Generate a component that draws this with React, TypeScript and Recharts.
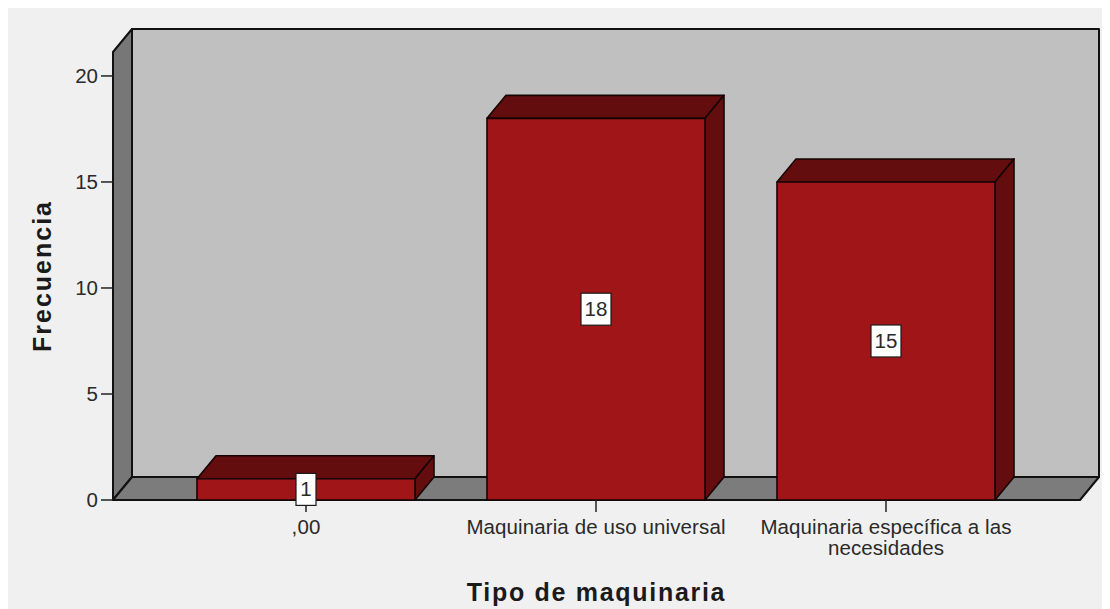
import React from "react";
import { BarChart, Bar, XAxis, YAxis, ReferenceArea, LabelList, Label } from "recharts";

const categories = [",00", "Maquinaria de uso universal", "Maquinaria específica a las necesidades"];
const frequencies = [1, 18, 15];
const yTicks = [0, 5, 10, 15, 20];
const yTop = 21.13;
const rows = categories.map((name, i) => ({ name, value: frequencies[i] }));

const FONT = '"Liberation Sans", Arial, sans-serif';
const DEPTH_X = 19;
const DEPTH_Y = 23;
const PAD_LEFT = 48;
const PAD_RIGHT = 49;
const EDGE = "#111111";
const TEXT = "#2a2a2a";

// Box interior: back wall, left wall and floor, offset by the extrusion depth.
// The area spans the padded category range, so it is widened back to the full plot.
function Room(props: any) {
  const { y, height } = props;
  const x = props.x - PAD_LEFT;
  const width = props.width + PAD_LEFT + PAD_RIGHT;
  const b = y + height;
  const r = x + width;
  return (
    <g stroke={EDGE} strokeLinejoin="round">
      <rect x={x + DEPTH_X} y={y - DEPTH_Y} width={width} height={height} fill="#c0c0c0" strokeWidth={2} />
      <path
        d={`M${x} ${y}L${x + DEPTH_X} ${y - DEPTH_Y}V${b - DEPTH_Y}L${x} ${b}Z`}
        fill="#777777"
        strokeWidth={2}
      />
      <path
        d={`M${x} ${b}L${x + DEPTH_X} ${b - DEPTH_Y}H${r + DEPTH_X}L${r} ${b}Z`}
        fill="#7c7c7c"
        strokeWidth={2}
      />
    </g>
  );
}

// Extruded bar: front face plus top and right faces.
function Block(props: any) {
  const { x, y, width, height } = props;
  const r = x + width;
  const b = y + height;
  return (
    <g stroke="#160404" strokeWidth={1.6} strokeLinejoin="round">
      <path
        d={`M${x} ${y}L${x + DEPTH_X} ${y - DEPTH_Y}H${r + DEPTH_X}L${r} ${y}Z`}
        fill="#640d0f"
      />
      <path
        d={`M${r} ${y}L${r + DEPTH_X} ${y - DEPTH_Y}V${b - DEPTH_Y}L${r} ${b}Z`}
        fill="#640d0f"
      />
      <rect x={x} y={y} width={width} height={height} fill="#a01518" />
    </g>
  );
}

function ValueTag(props: any) {
  const { x, y, width, height, value } = props;
  const cx = x + width / 2;
  const cy = y + height / 2;
  const w = String(value).length > 1 ? 30 : 20;
  const h = 32;
  return (
    <g>
      <rect x={cx - w / 2} y={cy - h / 2} width={w} height={h} fill="#ffffff" stroke="#1a1a1a" strokeWidth={1.2} />
      <text x={cx} y={cy + 7} textAnchor="middle" fontFamily={FONT} fontSize={20.5} fill={TEXT}>
        {value}
      </text>
    </g>
  );
}

function CategoryTick(props: any) {
  const { x, y, payload } = props;
  const lines: string[] = [];
  String(payload.value)
    .split(" ")
    .forEach((word) => {
      const last = lines[lines.length - 1];
      if (last !== undefined && (last + " " + word).length <= 30) lines[lines.length - 1] = last + " " + word;
      else lines.push(word);
    });
  return (
    <text x={x} y={y + 20} textAnchor="middle" fontFamily={FONT} fontSize={20.5} letterSpacing={0.1} fill={TEXT}>
      {lines.map((line, i) => (
        <tspan key={i} x={x} dy={i === 0 ? 0 : 21}>
          {line}
        </tspan>
      ))}
    </text>
  );
}

export default function App() {
  return (
    <div style={{ width: 1102, height: 601, background: "#f0f0f0" }}>
      <BarChart
        width={1102}
        height={601}
        data={rows}
        margin={{ top: 44, right: 30, bottom: 19, left: 0 }}
        barSize={218}
        style={{ display: "block" }}
      >
        <ReferenceArea y1={0} y2={yTop} ifOverflow="visible" shape={Room} />
        <XAxis
          dataKey="name"
          interval={0}
          height={90}
          padding={{ left: PAD_LEFT, right: PAD_RIGHT }}
          axisLine={false}
          tickSize={12}
          tickLine={{ stroke: "#222222", strokeWidth: 1.5 }}
          tick={<CategoryTick />}
        >
          <Label
            value="Tipo de maquinaria"
            position="insideBottom"
            offset={-11}
            style={{ fontFamily: FONT, fontSize: 25, fontWeight: 700, fill: "#1a1a1a", letterSpacing: 1.7 }}
          />
        </XAxis>
        <YAxis
          type="number"
          domain={[0, yTop]}
          ticks={yTicks}
          width={105}
          axisLine={false}
          tickSize={12}
          tickMargin={3}
          tickLine={{ stroke: "#222222", strokeWidth: 1.5 }}
          tick={{ fontFamily: FONT, fontSize: 20.5, fill: TEXT }}
        >
          <Label
            value="Frecuencia"
            angle={-90}
            position="insideLeft"
            offset={34}
            style={{ fontFamily: FONT, fontSize: 25, fontWeight: 700, fill: "#1a1a1a", letterSpacing: 2, textAnchor: "middle" }}
          />
        </YAxis>
        <Bar dataKey="value" isAnimationActive={false} shape={Block}>
          <LabelList dataKey="value" content={ValueTag} />
        </Bar>
      </BarChart>
    </div>
  );
}
